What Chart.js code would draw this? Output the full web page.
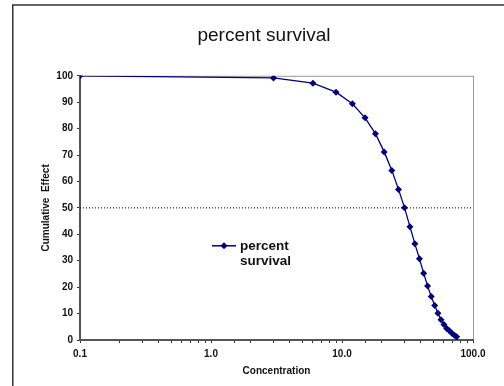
<!DOCTYPE html>
<html>
<head>
<meta charset="utf-8">
<script src="https://cdn.jsdelivr.net/npm/chart.js@4/dist/chart.umd.min.js"></script>
<style>
  html, body { margin: 0; padding: 0; background: #fff; overflow: hidden; }
  /* the chart frame starts 12px in, like the Excel original */
  canvas { display: block; margin-left: 12px; }
</style>
</head>
<body>
<canvas id="survival-chart" width="504" height="386"></canvas>
<script>
// values
const concentration = [0.1, 3, 6, 9, 12, 15, 18, 21, 24, 27, 30, 33, 36, 39, 42, 45, 48, 51, 54, 57, 60, 63, 66, 69, 72, 75];
const survival = [100, 99.2, 97.2, 93.8, 89.4, 84.1, 78.1, 71.2, 64.2, 57.0, 50.1, 42.9, 36.4, 30.8, 25.3, 20.4, 16.5, 13.1, 10.1, 7.7, 5.9, 4.4, 3.5, 2.6, 1.8, 1.2];
const xTickValues = [0.1, 1, 10, 100];
const refLevel = 50;
const seriesName = ['percent', 'survival'];

const FONT = '"Liberation Sans", Arial, sans-serif';
const NAVY = '#000080';

// frame of the whole chart + box round the plot area
const framePlugin = {
    id: 'frame',
    beforeDraw(chart) {
        const ctx = chart.ctx;
        ctx.save();
        ctx.fillStyle = '#fff';
        ctx.fillRect(0, 0, chart.width, chart.height);
        ctx.strokeStyle = '#333';
        ctx.lineWidth = 1.5;
        ctx.beginPath();
        ctx.moveTo(0.75, chart.height);
        ctx.lineTo(0.75, 5);
        ctx.lineTo(chart.width, 5);
        ctx.stroke();
        const a = chart.chartArea;
        ctx.strokeStyle = '#999';
        ctx.lineWidth = 1;
        ctx.strokeRect(a.left + 0.5, a.top + 0.5, a.right - a.left, a.bottom - a.top);
        ctx.restore();
    }
};

// two-line legend inside the plot, like the original
const legendPlugin = {
    id: 'innerLegend',
    afterDraw(chart) {
        const ctx = chart.ctx;
        const a = chart.chartArea;
        const x = a.left + 132;
        const y = a.top + 170;
        ctx.save();
        ctx.strokeStyle = NAVY;
        ctx.lineWidth = 1.5;
        ctx.beginPath();
        ctx.moveTo(x, y);
        ctx.lineTo(x + 24, y);
        ctx.stroke();
        ctx.fillStyle = NAVY;
        ctx.beginPath();
        ctx.moveTo(x + 12, y - 3.5);
        ctx.lineTo(x + 15.5, y);
        ctx.lineTo(x + 12, y + 3.5);
        ctx.lineTo(x + 8.5, y);
        ctx.closePath();
        ctx.fill();
        ctx.fillStyle = '#111';
        ctx.font = 'bold 13.5px ' + FONT;
        ctx.textBaseline = 'middle';
        ctx.textAlign = 'left';
        seriesName.forEach((t, i) => ctx.fillText(t, x + 28, y + i * 15.5));
        ctx.restore();
    }
};

const curvePoints = concentration.map((c, i) => ({ x: c, y: survival[i] }));
const refPoints = [{ x: xTickValues[0], y: refLevel }, { x: xTickValues[xTickValues.length - 1], y: refLevel }];

new Chart(document.getElementById('survival-chart'), {
    type: 'scatter',
    data: {
        datasets: [{
            label: seriesName.join(' '),
            data: curvePoints,
            showLine: true,
            borderColor: NAVY,
            borderWidth: 1.3,
            backgroundColor: NAVY,
            pointStyle: 'rectRot',
            pointRadius: 3.5,
            pointBorderWidth: 0
        }, {
            label: 'ref',
            data: refPoints,
            showLine: true,
            borderColor: '#000',
            borderWidth: 1,
            borderDash: [1, 2],
            pointRadius: 0
        }]
    },
    options: {
        responsive: false,
        animation: false,
        devicePixelRatio: 1,
        layout: { padding: 0 },
        plugins: {
            legend: { display: false },
            tooltip: { enabled: false },
            title: {
                display: true,
                text: 'percent survival',
                color: '#111',
                font: { family: FONT, size: 19, weight: 'normal' },
                padding: { top: 24, bottom: 29 }
            }
        },
        scales: {
            x: {
                type: 'logarithmic',
                min: 0.1,
                max: 100,
                border: { display: true, color: '#555', width: 2 },
                grid: { display: true, drawOnChartArea: false, drawTicks: true, tickLength: 3, color: '#333' },
                ticks: {
                    color: '#111',
                    font: { family: FONT, size: 10, weight: 'bold' },
                    padding: 5,
                    maxRotation: 0,
                    autoSkip: false,
                    callback: function(value) {
                        const hit = xTickValues.find(v => Math.abs(v - value) / v < 1e-6);
                        return hit !== undefined ? hit.toFixed(1) : '';
                    }
                },
                title: {
                    display: true,
                    text: 'Concentration',
                    color: '#111',
                    font: { family: FONT, size: 10, weight: 'bold' },
                    padding: { top: 0, bottom: 8.6 }
                },
                afterFit: function(scale) { scale.height = 46; }
            },
            y: {
                min: 0,
                max: 100,
                border: { display: true, color: '#555', width: 2 },
                grid: { display: true, drawOnChartArea: false, drawTicks: true, tickLength: 3, color: '#333' },
                ticks: {
                    stepSize: 10,
                    color: '#111',
                    font: { family: FONT, size: 10, weight: 'bold' },
                    padding: 4
                },
                title: {
                    display: true,
                    text: 'Cumulative  Effect',
                    color: '#111',
                    font: { family: FONT, size: 10, weight: 'bold' },
                    padding: { top: 28.6, bottom: 0 }
                },
                afterFit: function(scale) { scale.width = 68; }
            },
            // empty right-hand axis, only keeps the gap right of the plot
            yGap: {
                position: 'right',
                min: 0,
                max: 100,
                border: { display: false },
                grid: { display: false },
                ticks: { display: false },
                afterFit: function(scale) { scale.width = 43; }
            }
        }
    },
    plugins: [framePlugin, legendPlugin]
});
</script>
</body>
</html>
